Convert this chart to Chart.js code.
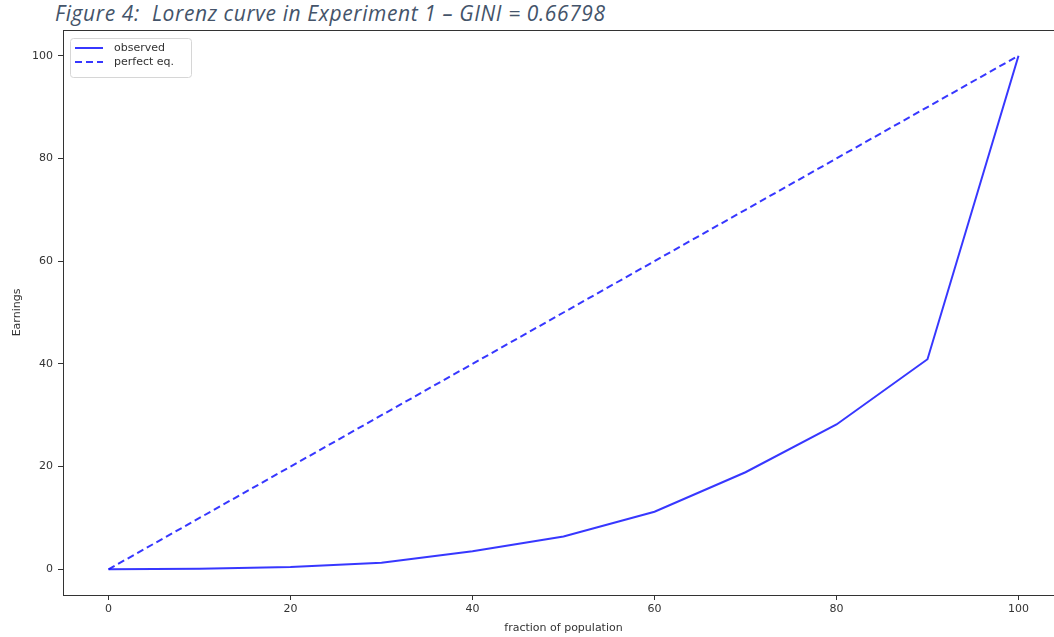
<!DOCTYPE html>
<html lang="en">
<head>
    <meta charset="UTF-8">
    <title>Lorenz curve</title>
    <script src="https://cdn.jsdelivr.net/npm/chart.js"></script>
    <style>
        html, body {
            margin: 0;
            padding: 0;
            background: #ffffff;
            overflow: hidden;
        }
        #caption {
            position: absolute;
            left: 55px;
            top: -1px;
            font-family: "Open Sans", sans-serif;
            font-style: italic;
            font-size: 21px;
            letter-spacing: 0.6px;
            color: #44546a;
            white-space: nowrap;
        }
        .chart-box {
            position: absolute;
            left: 0;
            top: 0;
            width: 1080px;
            height: 637px;
        }
    </style>
</head>
<body>
    <div id="caption">Figure 4:&nbsp; Lorenz curve in Experiment 1 – GINI = 0.66798</div>
    <div class="chart-box">
        <canvas id="lorenzChart"></canvas>
    </div>

    <script>
        // Datos
        const population = [0, 10, 20, 30, 40, 50, 60, 70, 80, 90, 100];
        const observed = [0, 0.13, 0.45, 1.3, 3.5, 6.4, 11.2, 18.9, 28.2, 40.9, 100];
        const perfectEq = [0, 10, 20, 30, 40, 50, 60, 70, 80, 90, 100];
        const xTicks = [0, 20, 40, 60, 80, 100];
        const yTicks = [0, 20, 40, 60, 80, 100];

        const lineBlue = 'rgba(20, 20, 255, 0.85)';
        const axisGrey = '#333333';
        const tickFont = { family: 'DejaVu Sans', size: 11 };

        // marco completo (los cuatro lados) y leyenda dentro del área
        const framePlugin = {
            id: 'frame',
            afterDraw(chart) {
                const ctx = chart.ctx;
                const a = chart.chartArea;
                ctx.save();
                ctx.strokeStyle = axisGrey;
                ctx.lineWidth = 1;
                ctx.strokeRect(a.left + 0.5, a.top + 0.5, a.right - a.left, a.bottom - a.top);

                // leyenda
                const bx = a.left + 7, by = a.top + 8, bw = 121, bh = 39;
                ctx.fillStyle = '#ffffff';
                ctx.strokeStyle = '#d6d6d6';
                ctx.beginPath();
                ctx.roundRect(bx + 0.5, by + 0.5, bw, bh, 3);
                ctx.fill();
                ctx.stroke();
                ctx.font = '11px "DejaVu Sans"';
                ctx.textBaseline = 'middle';
                chart.data.datasets.forEach((ds, i) => {
                    const y = by + 10 + i * 14;
                    ctx.strokeStyle = ds.borderColor;
                    ctx.lineWidth = 2;
                    ctx.setLineDash(ds.borderDash || []);
                    ctx.beginPath();
                    ctx.moveTo(bx + 5, y);
                    ctx.lineTo(bx + 33, y);
                    ctx.stroke();
                    ctx.setLineDash([]);
                    ctx.fillStyle = axisGrey;
                    ctx.fillText(ds.label, bx + 44, y);
                });
                ctx.restore();
            }
        };

        const chartOptions = {
            responsive: true,
            maintainAspectRatio: false,
            animation: false,
            layout: { padding: { left: 0, top: 30, right: 16, bottom: 0 } },
            plugins: {
                legend: { display: false },
                tooltip: { enabled: false }
            },
            elements: { point: { radius: 0 }, line: { tension: 0 } },
            scales: {
                x: {
                    type: 'linear',
                    min: -5,
                    max: 105,
                    afterBuildTicks: s => { s.ticks = xTicks.map(v => ({ value: v })); },
                    afterFit: s => { s.height = 42; },
                    grid: { drawOnChartArea: false, drawTicks: true, tickLength: 5, color: axisGrey },
                    border: { display: true, color: axisGrey },
                    ticks: { font: tickFont, color: axisGrey, padding: 3, maxRotation: 0 },
                    title: { display: true, text: 'fraction of population', font: tickFont, color: axisGrey, padding: { top: 0, bottom: 2 } }
                },
                y: {
                    type: 'linear',
                    min: -5,
                    max: 105,
                    afterBuildTicks: s => { s.ticks = yTicks.map(v => ({ value: v })); },
                    afterFit: s => { s.width = 63; },
                    grid: { drawOnChartArea: false, drawTicks: true, tickLength: 5, color: axisGrey },
                    border: { display: true, color: axisGrey },
                    ticks: { font: tickFont, color: axisGrey, padding: 5 },
                    title: { display: true, text: 'Earnings', font: tickFont, color: axisGrey, padding: { top: 11, bottom: 0 } }
                }
            }
        };

        new Chart(document.getElementById('lorenzChart'), {
            type: 'line',
            data: {
                datasets: [
                    {
                        label: 'observed',
                        data: population.map((x, i) => ({ x: x, y: observed[i] })),
                        borderColor: lineBlue,
                        borderWidth: 2,
                        fill: false
                    },
                    {
                        label: 'perfect eq.',
                        data: population.map((x, i) => ({ x: x, y: perfectEq[i] })),
                        borderColor: lineBlue,
                        borderWidth: 2,
                        borderDash: [7, 4],
                        fill: false
                    }
                ]
            },
            options: chartOptions,
            plugins: [framePlugin]
        });
    </script>
</body>
</html>
